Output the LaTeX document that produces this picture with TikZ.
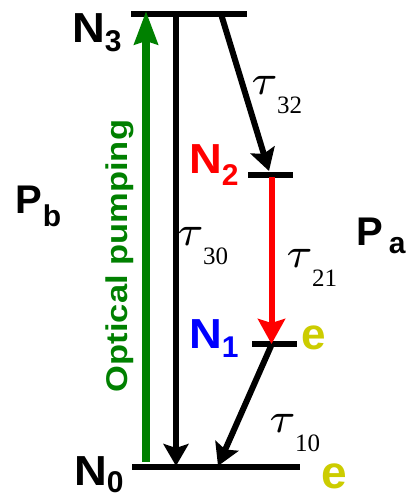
\documentclass[tikz,border=0pt]{standalone}
\usepackage{fontspec}
\setmainfont{Liberation Sans}
\newfontfamily\taufont{Liberation Serif}
\usetikzlibrary{arrows.meta}
\definecolor{pumpgreen}{RGB}{0,128,0}
\definecolor{eyellow}{RGB}{204,204,0}
\newcommand\levlab[3]{\fontsize{42}{42}\selectfont\scalebox{1.08}[1]{#1}\raisebox{-#3pt}{\fontsize{30}{30}\selectfont #2}}
\newcommand\plab[4]{\fontsize{40}{40}\selectfont #1\hspace{#4pt}\raisebox{-#3pt}{\fontsize{30}{30}\selectfont #2}}
\newcommand\taulab[1]{\scalebox{6}{$\scriptstyle\tau$}\hspace{-1pt}\raisebox{-19pt}{\taufont\fontsize{25}{25}\selectfont #1}}
\tikzset{
  lvl/.style={line width=6pt},
  arr/.style={line width=6pt,-{Stealth[length=22pt,width=25pt,inset=4pt]}},
  lab/.style={inner sep=0pt,anchor=base west,font=\bfseries},
  taun/.style={inner sep=0pt,anchor=base west}
}
\begin{document}
\begin{tikzpicture}[x=1pt,y=-1pt]
\useasboundingbox (0,0) rectangle (405,497);
\clip (0,0) rectangle (405,497);
% level end points
\coordinate (l3a) at (131,14);   \coordinate (l3b) at (247,14);
\coordinate (l2a) at (248,174.5);\coordinate (l2b) at (293,174.5);
\coordinate (l1a) at (252,343.5);\coordinate (l1b) at (297,343.5);
\coordinate (l0a) at (132,466.5);\coordinate (l0b) at (300,466.5);
% arrow end points
\coordinate (gS) at (146,462); \coordinate (gE) at (146,11);
\coordinate (b3S) at (176,14); \coordinate (b3E) at (176,466);
\coordinate (t32S) at (221,14); \coordinate (t32E) at (269,171);
\coordinate (rS) at (271.5,177); \coordinate (rE) at (271.5,344);
\coordinate (t10S) at (271,346); \coordinate (t10E) at (218,466);
% levels
\draw[lvl] (l3a) -- (l3b);
\draw[lvl] (l2a) -- (l2b);
\draw[lvl] (l1a) -- (l1b);
\draw[lvl] (l0a) -- (l0b);
% arrows
\draw[line width=7.5pt,pumpgreen,-{Stealth[length=33pt,width=23pt,inset=3pt]}] (gS) -- (gE);
\draw[arr] (b3S) -- (b3E);
\draw[arr] (t32S) -- (t32E);
\draw[arr,red,-{Stealth[length=25pt,width=27pt,inset=4pt]}] (rS) -- (rE);
\draw[arr] (t10S) -- (t10E);
% level labels
\node[lab] (N3) at (72,43) {\levlab{N}{3}{9}};
\node[lab,text=red] (N2) at (189,173) {\levlab{N}{2}{12}};
\node[lab,text=blue] (N1) at (189,348) {\levlab{N}{1}{9}};
\node[lab] (N0) at (74,485) {\levlab{N}{0}{7}};
\node[lab,text=eyellow] (e1) at (301,349) {\fontsize{44}{44}\selectfont e};
\node[lab,text=eyellow] (e0) at (321,488) {\fontsize{46}{46}\selectfont e};
\node[lab] (Pb) at (15,213) {\plab{P}{b}{13}{1}};
\node[lab] (Pa) at (356,245) {\plab{P}{a}{8}{6}};
% tau labels
\node[taun] (tau32) at (251,95) {\taulab{32}};
\node[taun] (tau30) at (177,245) {\taulab{30}};
\node[taun] (tau21) at (286,267) {\taulab{21}};
\node[taun] (tau10) at (269,432) {\taulab{10}};
% optical pumping
\node[inner sep=0pt,rotate=90,text=pumpgreen,font=\bfseries] (op) at (120,256)
  {\scalebox{1.15}[1]{\fontsize{30}{30}\selectfont Optical pumping}};
\end{tikzpicture}
\end{document}
